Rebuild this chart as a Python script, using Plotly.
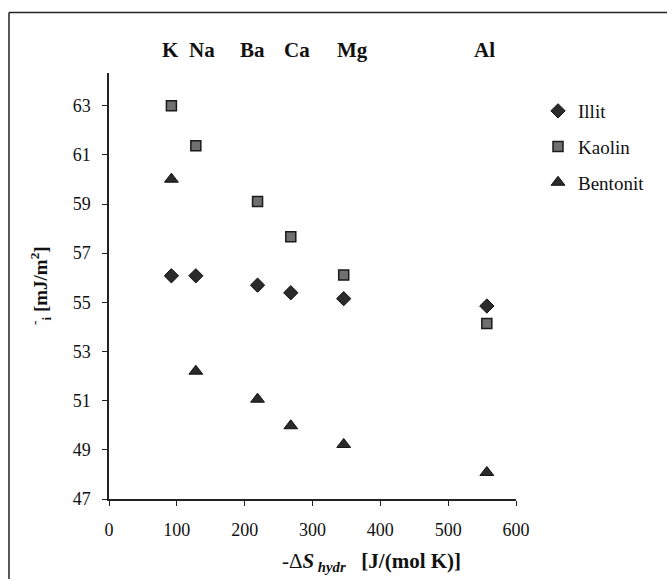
import plotly.graph_objects as go

# Data
ions = ["K", "Na", "Ba", "Ca", "Mg", "Al"]
ds_hydr = [92, 128, 219, 268, 346, 557]
illit = [56.08, 56.08, 55.70, 55.39, 55.15, 54.85]
kaolin = [63.0, 61.37, 59.10, 57.67, 56.11, 54.14]
bentonit = [60.01, 52.2, 51.06, 49.98, 49.22, 48.08]
y_ticks = [47, 49, 51, 53, 55, 57, 59, 61, 63]
x_ticks = [0, 100, 200, 300, 400, 500, 600]

W, H = 667, 579
ML, MR, MT, MB = 109, 151, 73, 80
PW, PH = W - ML - MR, H - MT - MB

def px(xpix):
    return (xpix - ML) / PW

def py(ypix):
    return (H - MB - ypix) / PH

serif = "Liberation Serif, Times New Roman, serif"

fig = go.Figure()
fig.add_trace(go.Scatter(x=ds_hydr, y=illit, mode="markers", name="Illit", legendgroup="a",
                         marker=dict(symbol="diamond", size=11, color="#2b2b2b",
                                     line=dict(color="#111", width=1))))
fig.add_trace(go.Scatter(x=ds_hydr, y=kaolin, mode="markers", name="Kaolin", legendgroup="b",
                         marker=dict(symbol="square", size=10, color="#707070",
                                     line=dict(color="#1a1a1a", width=1.5))))
fig.add_trace(go.Scatter(x=ds_hydr, y=bentonit, mode="markers", name="Bentonit", legendgroup="c",
                         marker=dict(symbol="triangle-up", size=12, color="#2b2b2b",
                                     line=dict(color="#111", width=1))))

label_shift = [-1, 6, -5, 6, 9, -2]
annotations = []
for ion, xv, sh in zip(ions, ds_hydr, label_shift):
    annotations.append(dict(x=xv, y=py(50), xref="x", yref="paper", text="<b>%s</b>" % ion,
                            xshift=sh, showarrow=False,
                            font=dict(family=serif, size=21, color="#111"),
                            xanchor="center", yanchor="middle"))
annotations.append(dict(x=px(40), y=py(286), xref="paper", yref="paper",
                        text="<b><sup>-</sup><sub>i</sub> [mJ/m<sup>2</sup>]</b>",
                        textangle=-90, showarrow=False,
                        font=dict(family=serif, size=19, color="#111"),
                        xanchor="center", yanchor="middle"))
annotations.append(dict(x=px(371), y=py(562), xref="paper", yref="paper",
                        text="-Δ<b><i>S</i></b><b><i><sub> hydr</sub></i></b>   <b>[J/(mol K)]</b>",
                        showarrow=False, font=dict(family=serif, size=21, color="#111"),
                        xanchor="center", yanchor="middle"))

shapes = [
    dict(type="line", xref="paper", yref="paper", x0=px(9), x1=px(667), y0=py(12.5), y1=py(12.5),
         line=dict(color="#222", width=1.5)),
    dict(type="line", xref="paper", yref="paper", x0=px(9), x1=px(9), y0=py(12.5), y1=py(579),
         line=dict(color="#222", width=1.5)),
]

fig.update_layout(
    width=W, height=H,
    margin=dict(l=ML, r=MR, t=MT, b=MB),
    paper_bgcolor="white", plot_bgcolor="white",
    font=dict(family=serif, size=18, color="#111"),
    showlegend=True,
    legend=dict(x=px(538), y=py(92), xanchor="left", yanchor="top",
                font=dict(family=serif, size=19, color="#111"),
                bgcolor="rgba(0,0,0,0)", tracegroupgap=8, itemwidth=30),
    annotations=annotations,
    shapes=shapes,
)
fig.update_xaxes(range=[0, 600], tickvals=x_ticks, showgrid=False, zeroline=False,
                 showline=True, linecolor="#222", linewidth=1.5,
                 ticks="outside", ticklen=5, tickcolor="#222", ticklabelstandoff=9,
                 tickfont=dict(family=serif, size=18, color="#111"))
fig.update_yaxes(range=[47, 64.33], tickvals=y_ticks, showgrid=False, zeroline=False,
                 showline=True, linecolor="#222", linewidth=1.5,
                 ticks="outside", ticklen=5, tickcolor="#222", ticklabelstandoff=8,
                 tickfont=dict(family=serif, size=18, color="#111"))

fig.write_html("out.html")
